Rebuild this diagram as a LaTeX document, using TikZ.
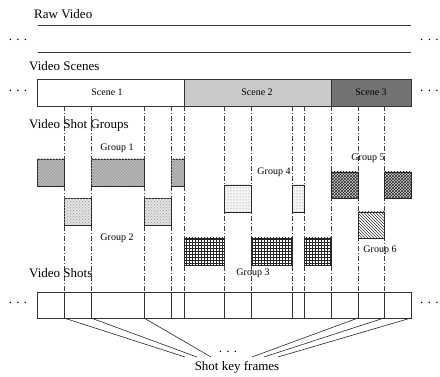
\documentclass[tikz,border=0pt]{standalone}
\usepackage{fontspec}
\setmainfont{Liberation Serif}
\usetikzlibrary{patterns}
\begin{document}
\begin{tikzpicture}[x=1pt,y=-1pt,
  title/.style={anchor=west, font=\fontsize{13}{15}\selectfont, inner sep=0pt},
  lab/.style={font=\fontsize{10}{12}\selectfont, inner sep=0pt},
  ell/.style={font=\fontsize{13}{15}\selectfont, inner sep=0pt},
  sep/.style={dash pattern=on 5pt off 2pt on 1pt off 2pt, line width=0.5pt, black!75},
  bar/.style={draw=black!80, line width=0.6pt},
  gbox/.style={draw=black!85, line width=0.9pt},
  gA/.style={gbox, fill=gray!55, postaction={pattern=north east lines, pattern color=black!40}},
  gB/.style={gbox, fill=gray!22, postaction={pattern=crosshatch dots, pattern color=black!40}},
  gC/.style={gbox, fill=white, postaction={pattern=grid, pattern color=black!85}},
  gD/.style={gbox, fill=gray!8, postaction={pattern=dots, pattern color=black!50}},
  gE/.style={gbox, fill=gray!35, postaction={pattern=crosshatch, pattern color=black!85}},
  gF/.style={gbox, fill=white, postaction={pattern=north west lines, pattern color=black!80}},
  kf/.style={line width=0.6pt, black!85}]
\useasboundingbox (0,0) rectangle (440,377);

% Raw video
\node[title] (raw) at (34,14) {Raw Video};
\draw[bar] (37.5,25) -- (411,25);
\draw[bar] (37.5,52) -- (411,52);
\node[ell] (d1l) at (18,40) {.\,\,.\,\,.};
\node[ell, anchor=west] (d1r) at (420,40) {.\,\,.\,\,.};

% Scenes
\node[title] (scn) at (29,66) {Video Scenes};
\draw[bar, fill=white] (37.5,79) rectangle (184,106);
\draw[bar, fill=gray!42] (184,79) rectangle (331,106);
\draw[bar, fill=black!55] (331,79) rectangle (411,106);
\node[lab] (s1) at (107,92) {Scene 1};
\node[lab] (s2) at (257,92) {Scene 2};
\node[lab] (s3) at (371,92) {Scene 3};
\node[ell] (d2l) at (18,91) {.\,\,.\,\,.};
\node[ell, anchor=west] (d2r) at (420,91) {.\,\,.\,\,.};

% separators
\foreach \x in {64,91,144,171,184,224,251,292,304,331,358,384}
  \draw[sep] (\x,106) -- (\x,292);

% Groups
\node[title] (vsg) at (29,125) {Video Shot Groups};
\draw[gA] (37.5,159) rectangle (64,186);
\draw[gA] (91,159) rectangle (144,186);
\draw[gA] (171,159) rectangle (184,186);
\node[lab] (g1) at (117,148) {Group 1};

\draw[gB] (64,198) rectangle (91,225);
\draw[gB] (144,198) rectangle (171,225);
\node[lab] (g2) at (117,238) {Group 2};

\draw[gC] (184,238) rectangle (224,265);
\draw[gC] (251,238) rectangle (292,265);
\draw[gC] (304,238) rectangle (331,265);
\node[lab] (g3) at (253,273) {Group 3};

\draw[gD] (224,185) rectangle (251,212);
\draw[gD] (292,185) rectangle (304,212);
\node[lab] (g4) at (274,172) {Group 4};

\draw[gE] (331,172) rectangle (358,198);
\draw[gE] (384,172) rectangle (411,198);
\node[lab] (g5) at (368,158) {Group 5};

\draw[gF] (358,212) rectangle (384,238);
\node[lab] (g6) at (380,250) {Group 6};

% Shots
\node[title] (vs) at (29,273) {Video Shots};
\draw[bar, fill=white] (37.5,292) rectangle (411,318);
\foreach \x in {64,91,144,171,184,224,251,292,304,331,358,384}
  \draw[bar] (\x,292) -- (\x,318);
\node[ell] (d3l) at (18,303) {.\,\,.\,\,.};
\node[ell, anchor=west] (d3r) at (420,303) {.\,\,.\,\,.};

% key frames
\coordinate (a1) at (64,318);  \coordinate (b1) at (185,357);
\coordinate (a2) at (91,318);  \coordinate (b2) at (197,357);
\coordinate (a3) at (144,318); \coordinate (b3) at (211,357);
\coordinate (a4) at (358,318); \coordinate (b4) at (252,357);
\coordinate (a5) at (384,318); \coordinate (b5) at (264,357);
\coordinate (a6) at (411,318); \coordinate (b6) at (278,357);
\foreach \i in {1,...,6} \draw[kf] (a\i) -- (b\i);
\node[ell] (d4) at (228,352) {.\,\,.\,\,.};
\node[font=\fontsize{13}{15}\selectfont, inner sep=0pt] (skf) at (237,367) {Shot key frames};
\end{tikzpicture}
\end{document}
